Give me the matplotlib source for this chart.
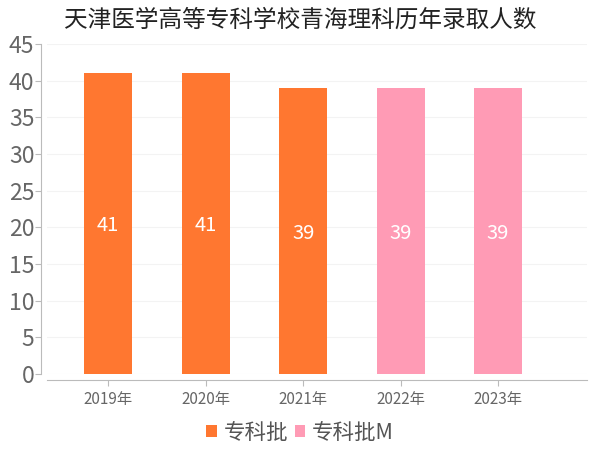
import matplotlib.pyplot as plt

plt.rcParams['font.family'] = ['Noto Sans CJK SC', 'DejaVu Sans']

# data
years = ['2019年', '2020年', '2021年', '2022年', '2023年']
counts = [41, 41, 39, 39, 39]
batches = ['专科批', '专科批', '专科批', '专科批M', '专科批M']
batch_colors = {'专科批': '#FF7730', '专科批M': '#FF9BB5'}

fig = plt.figure(figsize=(6, 4.5), dpi=100)
ax = fig.add_axes([0.078, 0.169, 0.9, 0.733])

x = list(range(len(years)))
for name, color in batch_colors.items():
    xs = [i for i in x if batches[i] == name]
    ys = [counts[i] for i in x if batches[i] == name]
    bars = ax.bar(xs, ys, width=0.49, color=color, label=name, zorder=2)
    for b, v in zip(bars, ys):
        ax.text(b.get_x() + b.get_width() / 2, v / 2 - 0.3, str(v), ha='center', va='center',
                color='white', fontsize=14.5)

ax.set_xlim(-0.63, 4.91)
ax.set_ylim(0, 45)
ax.set_yticks(range(0, 46, 5))
ax.set_xticks(x)
ax.set_xticklabels(years)
ax.grid(axis='y', color='#f3f3f3', linewidth=0.8, zorder=0)

for s in ['top', 'right']:
    ax.spines[s].set_visible(False)
ax.spines['left'].set_position(('outward', 4))
ax.spines['bottom'].set_position(('outward', 4))
ax.spines['left'].set_color('#bbbbbb')
ax.spines['bottom'].set_color('#bbbbbb')
ax.tick_params(axis='y', labelsize=16.5, labelcolor='#666666', color='#bbbbbb', length=4, pad=1)
ax.tick_params(axis='x', labelsize=11, labelcolor='#666666', color='#bbbbbb', length=4, pad=4)

fig.text(0.5, 0.955, '天津医学高等专科学校青海理科历年录取人数', ha='center', va='center',
         fontsize=17, color='#222222')

fig.legend(loc='center', bbox_to_anchor=(0.5, 0.038), ncol=2, frameon=False,
           fontsize=15.5, handlelength=0.5, handleheight=0.5, handletextpad=0.3,
           columnspacing=0.3, labelcolor='#555555')

fig.savefig('out.png', dpi=100)
